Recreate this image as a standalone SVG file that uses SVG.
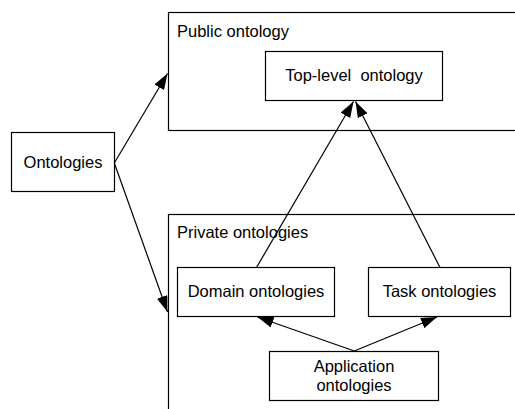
<svg xmlns="http://www.w3.org/2000/svg" width="515" height="409" viewBox="0 0 515 409">
<style>
.box{fill:#fff;stroke:#000;stroke-width:1.2}
.t{font-family:"Liberation Sans",Arial,sans-serif;font-size:16.5px;fill:#000}
.m{text-anchor:middle}
.c{stroke:#000;stroke-width:1.2;fill:none;marker-end:url(#ah)}
</style>
<defs>
<marker id="ah" markerUnits="userSpaceOnUse" markerWidth="16" markerHeight="11" viewBox="0 0 16 11" refX="16" refY="5.5" orient="auto">
<path d="M0,0 L16,5.5 L0,11 z" fill="#000"/>
</marker>
</defs>
<rect width="515" height="409" fill="#fff"/>
<g id="public">
<rect class="box" x="168.5" y="12.5" width="360" height="118"/>
<text class="t" x="177" y="37">Public ontology</text>
</g>
<g id="private">
<rect class="box" x="168.5" y="214.5" width="360" height="220"/>
<text class="t" x="177" y="238">Private ontologies</text>
</g>
<g id="toplevel">
<rect class="box" x="265.5" y="51.5" width="177" height="49"/>
<text class="t m" x="354" y="81" xml:space="preserve">Top-level  ontology</text>
</g>
<g id="ontologies">
<rect class="box" x="11.5" y="132.5" width="103" height="59"/>
<text class="t m" x="63" y="168">Ontologies</text>
</g>
<g id="domain">
<rect class="box" x="177.5" y="267.5" width="157" height="49"/>
<text class="t m" x="256" y="297">Domain ontologies</text>
</g>
<g id="task">
<rect class="box" x="368.5" y="267.5" width="142" height="49"/>
<text class="t m" x="439.5" y="297">Task ontologies</text>
</g>
<g id="application">
<rect class="box" x="269.5" y="351.5" width="169" height="49"/>
<text class="t m" x="354" y="372">Application</text>
<text class="t m" x="354" y="391">ontologies</text>
</g>
<g id="connectors">
<line class="c" x1="114.3" y1="163" x2="167.5" y2="73.5"/>
<line class="c" x1="114.3" y1="163" x2="167.5" y2="312"/>
<line class="c" x1="256.5" y1="267.5" x2="353.5" y2="101.5"/>
<line class="c" x1="440" y1="267.5" x2="355.5" y2="101.5"/>
<line class="c" x1="354.3" y1="351" x2="257.5" y2="317"/>
<line class="c" x1="354.3" y1="351" x2="437" y2="317"/>
</g>
</svg>
